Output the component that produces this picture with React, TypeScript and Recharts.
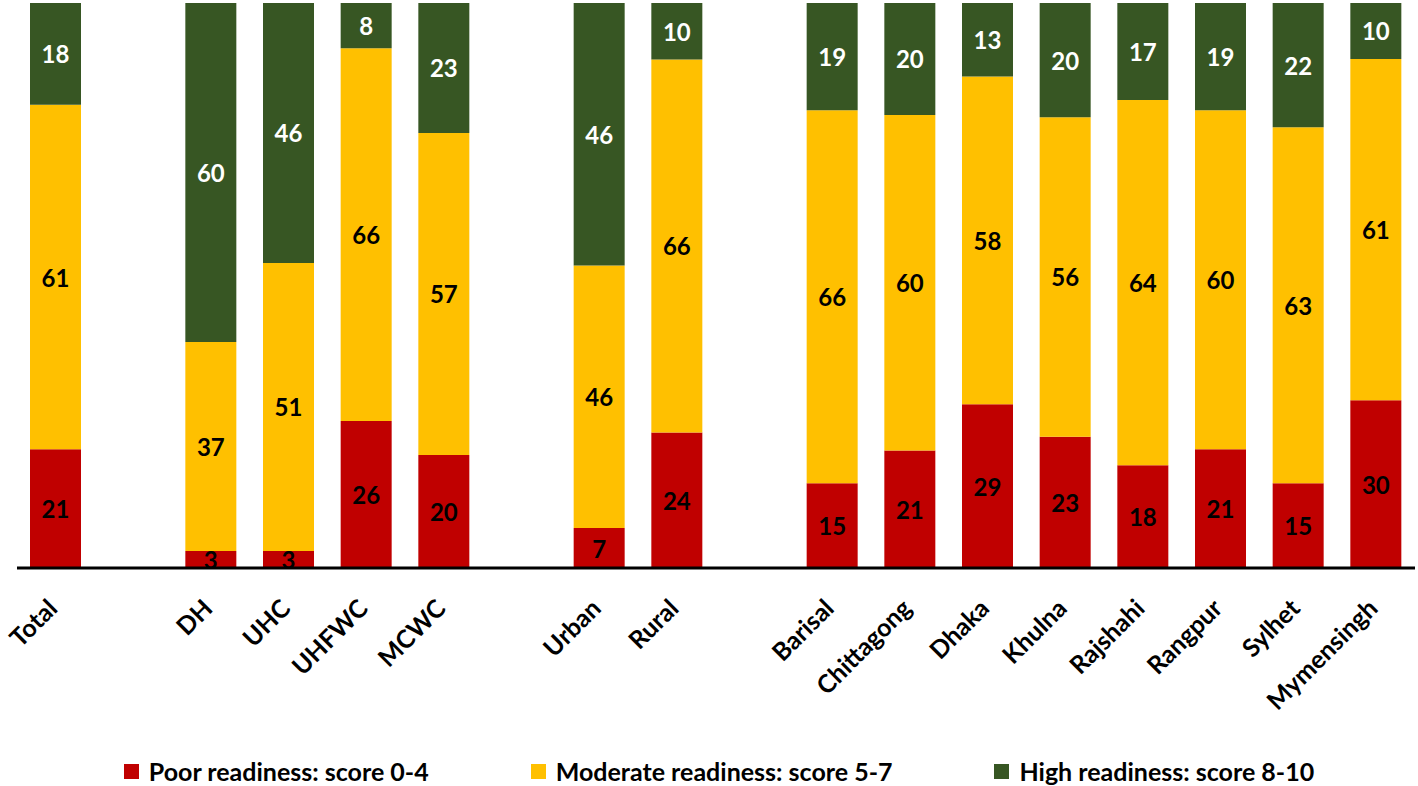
import { BarChart, Bar, XAxis, YAxis, Legend, LabelList } from 'recharts';

// Categories (empty strings are the spacer slots between groups)
const categories = ['Total', '', 'DH', 'UHC', 'UHFWC', 'MCWC', '', 'Urban', 'Rural', '', 'Barisal', 'Chittagong', 'Dhaka', 'Khulna', 'Rajshahi', 'Rangpur', 'Sylhet', 'Mymensingh'];

// Readiness shares (%)
const poor = [21, null, 3, 3, 26, 20, null, 7, 24, null, 15, 21, 29, 23, 18, 21, 15, 30];
const moderate = [61, null, 37, 51, 66, 57, null, 46, 66, null, 66, 60, 58, 56, 64, 60, 63, 61];
const high = [18, null, 60, 46, 8, 23, null, 46, 10, null, 19, 20, 13, 20, 17, 19, 22, 10];

const seriesNames = ['Poor readiness: score 0-4', 'Moderate readiness: score 5-7', 'High readiness: score 8-10'];
const colors = ['#C00000', '#FFC000', '#375623'];

const FONT = "Lato, 'Open Sans', sans-serif";

const data = categories.map((name, i) => ({
  name,
  poor: poor[i],
  moderate: moderate[i],
  high: high[i],
}));

// Rotated category labels
const CategoryTick = ({ x, y, payload }: any) => {
  if (!payload || !payload.value) return null;
  const ax = x + 3;
  const ay = y + 34;
  return (
    <text
      x={ax}
      y={ay}
      transform={`rotate(-45, ${ax}, ${ay})`}
      textAnchor="end"
      fontFamily={FONT}
      fontWeight={700}
      fontSize={25}
      fill="#000"
    >
      {payload.value}
    </text>
  );
};

// Value label in the middle of each segment
const makeLabel = (color: string) => (props: any) => {
  const { x, y, width, height, value } = props;
  if (value === null || value === undefined || value === '') return null;
  return (
    <text
      x={x + width / 2}
      y={y + height / 2}
      textAnchor="middle"
      dominantBaseline="central"
      fontFamily={FONT}
      fontWeight={700}
      fontSize={24}
      fill={color}
    >
      {value}
    </text>
  );
};

const LegendContent = () => (
  <div style={{ display: 'flex', justifyContent: 'center', alignItems: 'center', height: 30, paddingTop: 10, paddingLeft: 6, fontFamily: FONT, fontWeight: 700, fontSize: 25 }}>
    {seriesNames.map((s, i) => (
      <div key={s} style={{ display: 'flex', alignItems: 'center', marginLeft: i ? 102 : 0 }}>
        <span style={{ width: 15, height: 15, background: colors[i], display: 'inline-block', marginRight: 10 }} />
        <span>{s}</span>
      </div>
    ))}
  </div>
);

export default function App() {
  return (
    <div>
      <style>{'body{margin:0;background:#fff}'}</style>
      <BarChart
        width={1418}
        height={786}
        data={data}
        stackOffset="expand"
        margin={{ top: 3, right: 3, left: 17, bottom: 0 }}
        barSize={51}
      >
        <XAxis
          dataKey="name"
          interval={0}
          tickLine={false}
          axisLine={{ stroke: '#000', strokeWidth: 3 }}
          tick={<CategoryTick />}
          height={178}
        />
        <YAxis hide domain={[0, 1]} />
        <Legend verticalAlign="bottom" height={40} content={<LegendContent />} />
        <Bar dataKey="poor" stackId="a" fill={colors[0]} name={seriesNames[0]} isAnimationActive={false}>
          <LabelList dataKey="poor" content={makeLabel('#000')} />
        </Bar>
        <Bar dataKey="moderate" stackId="a" fill={colors[1]} name={seriesNames[1]} isAnimationActive={false}>
          <LabelList dataKey="moderate" content={makeLabel('#000')} />
        </Bar>
        <Bar dataKey="high" stackId="a" fill={colors[2]} name={seriesNames[2]} isAnimationActive={false}>
          <LabelList dataKey="high" content={makeLabel('#fff')} />
        </Bar>
      </BarChart>
    </div>
  );
}
